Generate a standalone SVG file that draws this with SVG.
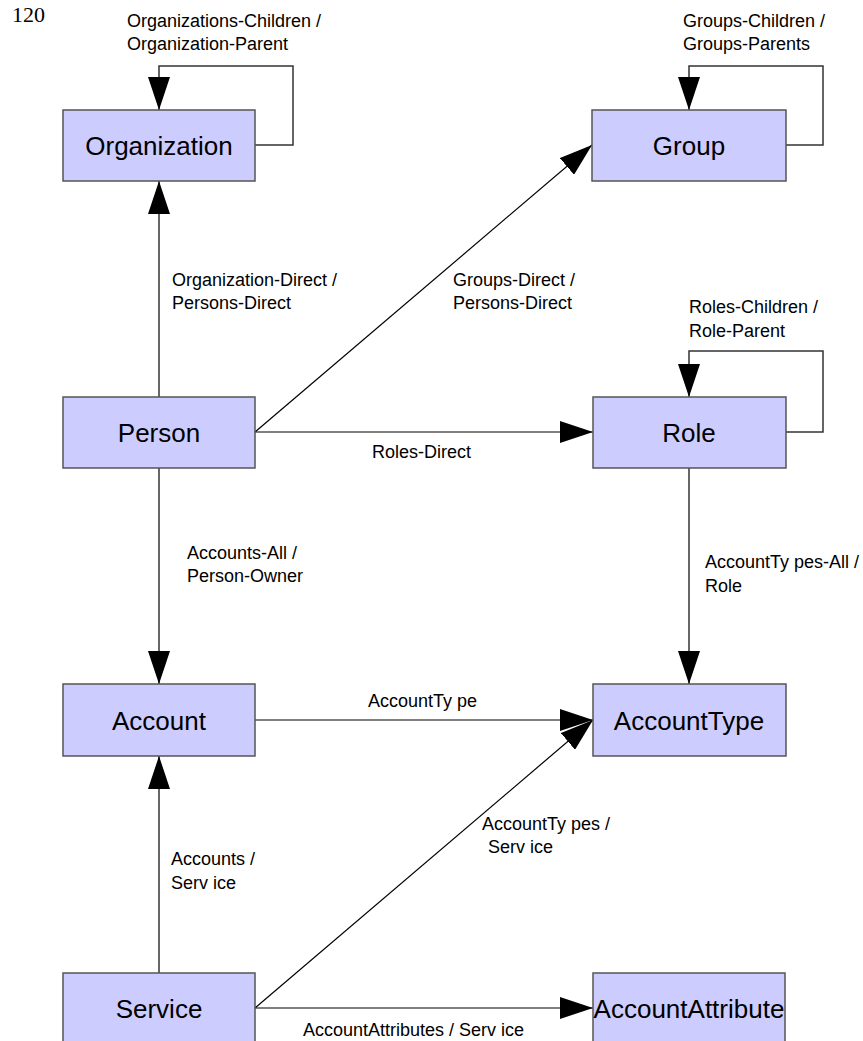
<svg xmlns="http://www.w3.org/2000/svg" width="863" height="1041" viewBox="0 0 863 1041">
<style>
.box{fill:#ccccff;stroke:#555555;stroke-width:1.5}
.bt{font-family:"Liberation Sans",Arial,sans-serif;font-size:26px;fill:#000;text-anchor:middle}
.lb{font-family:"Liberation Sans",Arial,sans-serif;font-size:18px;fill:#000}
.c{fill:none;stroke:#000;stroke-width:1.2}
.loop{fill:none;stroke:#333;stroke-width:1.5}
</style>
<defs>
<marker id="ah" markerUnits="userSpaceOnUse" markerWidth="34" markerHeight="22" refX="33" refY="11" orient="auto">
<path d="M0,0 L33,11 L0,22 z" fill="#000"/>
</marker>
</defs>
<rect width="863" height="1041" fill="#fff"/>
<text x="12" y="22" font-family="'Liberation Serif','Times New Roman',serif" font-size="22">120</text>
<g id="connectors">
<polyline class="loop" points="255,145 293,145 293,66 159,66 159,110" marker-end="url(#ah)"/>
<polyline class="loop" points="786,145 823,145 823,66 689,66 689,110" marker-end="url(#ah)"/>
<polyline class="loop" points="786,432 823,432 823,351 689,351 689,397" marker-end="url(#ah)"/>
<line class="c" x1="159" y1="397" x2="159" y2="181" marker-end="url(#ah)"/>
<line class="c" x1="255" y1="432" x2="592" y2="145" marker-end="url(#ah)"/>
<line class="c" x1="255" y1="432" x2="593" y2="432" marker-end="url(#ah)"/>
<line class="c" x1="159" y1="468" x2="159" y2="684" marker-end="url(#ah)"/>
<line class="c" x1="689" y1="468" x2="689" y2="684" marker-end="url(#ah)"/>
<line class="c" x1="255" y1="720" x2="593" y2="720" marker-end="url(#ah)"/>
<line class="c" x1="159" y1="973" x2="159" y2="756" marker-end="url(#ah)"/>
<line class="c" x1="255" y1="1008" x2="593" y2="720" marker-end="url(#ah)"/>
<line class="c" x1="255" y1="1008" x2="593" y2="1008" marker-end="url(#ah)"/>
</g>
<g id="labels">
<text class="lb" x="127" y="27">Organizations-Children /</text>
<text class="lb" x="127" y="50">Organization-Parent</text>
<text class="lb" x="683" y="27">Groups-Children /</text>
<text class="lb" x="683" y="50">Groups-Parents</text>
<text class="lb" x="172" y="286">Organization-Direct /</text>
<text class="lb" x="172" y="309">Persons-Direct</text>
<text class="lb" x="453" y="286">Groups-Direct /</text>
<text class="lb" x="453" y="309">Persons-Direct</text>
<text class="lb" x="689" y="313">Roles-Children /</text>
<text class="lb" x="689" y="337">Role-Parent</text>
<text class="lb" x="372" y="458">Roles-Direct</text>
<text class="lb" x="187" y="559">Accounts-All /</text>
<text class="lb" x="187" y="582">Person-Owner</text>
<text class="lb" x="705" y="568">AccountTy pes-All /</text>
<text class="lb" x="705" y="592">Role</text>
<text class="lb" x="368" y="707">AccountTy pe</text>
<text class="lb" x="482" y="830">AccountTy pes /</text>
<text class="lb" x="488" y="853">Serv ice</text>
<text class="lb" x="171" y="865">Accounts /</text>
<text class="lb" x="171" y="889">Serv ice</text>
<text class="lb" x="303" y="1036">AccountAttributes / Serv ice</text>
</g>
<g id="organization"><rect class="box" x="63" y="110" width="192" height="71"/><text class="bt" x="159" y="155">Organization</text></g>
<g id="group"><rect class="box" x="592" y="110" width="194" height="71"/><text class="bt" x="689" y="155">Group</text></g>
<g id="person"><rect class="box" x="63" y="397" width="192" height="71"/><text class="bt" x="159" y="442">Person</text></g>
<g id="role"><rect class="box" x="593" y="397" width="193" height="71"/><text class="bt" x="689" y="442">Role</text></g>
<g id="account"><rect class="box" x="63" y="684" width="192" height="72"/><text class="bt" x="159" y="730">Account</text></g>
<g id="accounttype"><rect class="box" x="593" y="684" width="193" height="72"/><text class="bt" x="689" y="730">AccountType</text></g>
<g id="service"><rect class="box" x="63" y="973" width="192" height="72"/><text class="bt" x="159" y="1018">Service</text></g>
<g id="accountattribute"><rect class="box" x="593" y="973" width="192" height="72"/><text class="bt" x="689" y="1018">AccountAttribute</text></g>
</svg>
